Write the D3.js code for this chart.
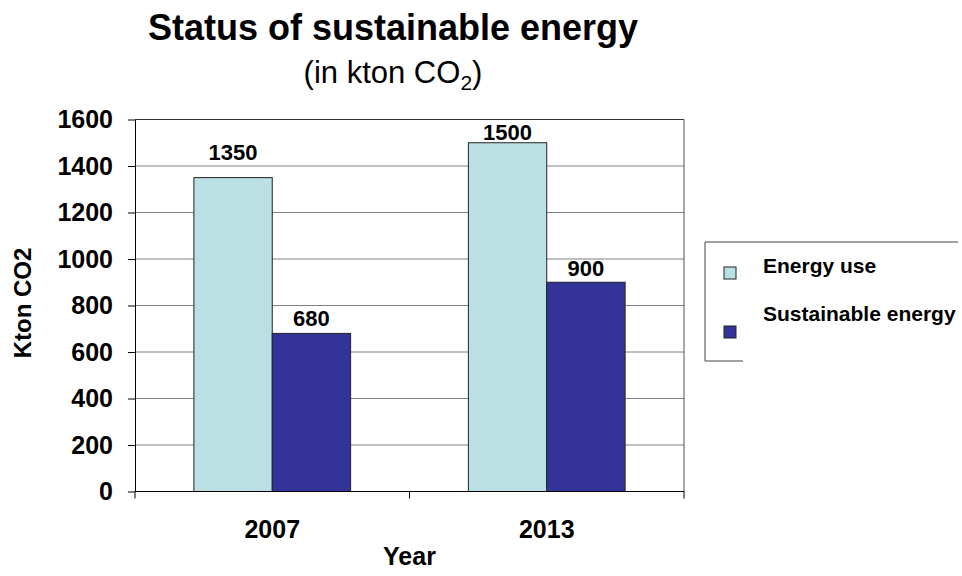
<!DOCTYPE html>
<html>
<head>
<meta charset="utf-8">
<script src="https://cdn.jsdelivr.net/npm/d3@7"></script>
<style>
  body { margin: 0; background: #fff; }
  svg { display: block; font-family: "Liberation Sans", Arial, sans-serif; }
</style>
</head>
<body>
<svg width="962" height="576"></svg>
<script>
const years = ["2007", "2013"];
const seriesNames = ["Energy use", "Sustainable energy"];
const energyUse = [1350, 1500];
const sustainableEnergy = [680, 900];
const yTicks = [0, 200, 400, 600, 800, 1000, 1200, 1400, 1600];

const colors = { "Energy use": "#BBE0E3", "Sustainable energy": "#333399" };

const svg = d3.select("svg");
const plotLeft = 135, plotRight = 684, plotTop = 119.5, plotBottom = 491.5;

const x = d3.scaleBand()
  .domain(years)
  .range([plotLeft, plotRight])
  .paddingInner(0.429)
  .paddingOuter(0.2145);

const xInner = d3.scaleBand()
  .domain(seriesNames)
  .range([0, x.bandwidth()]);

const y = d3.scaleLinear()
  .domain([0, 1600])
  .range([plotBottom, plotTop]);

const rows = years.map((yr, i) => ({
  year: yr,
  values: [
    { name: seriesNames[0], value: energyUse[i] },
    { name: seriesNames[1], value: sustainableEnergy[i] }
  ]
}));

// gridlines
svg.append("g")
  .selectAll("line")
  .data(yTicks.filter(d => d > 0))
  .enter()
  .append("line")
  .attr("x1", plotLeft)
  .attr("x2", plotRight)
  .attr("y1", d => y(d))
  .attr("y2", d => y(d))
  .attr("stroke", d => d === 1600 ? "#333" : "#808080")
  .attr("stroke-width", 1);

// right border of plot area
svg.append("line")
  .attr("x1", plotRight).attr("x2", plotRight)
  .attr("y1", plotTop).attr("y2", plotBottom)
  .attr("stroke", "#555");

// bars
const groups = svg.append("g")
  .selectAll("g")
  .data(rows)
  .enter()
  .append("g")
  .attr("transform", d => `translate(${x(d.year)},0)`);

groups.selectAll("rect")
  .data(d => d.values)
  .enter()
  .append("rect")
  .attr("x", d => xInner(d.name))
  .attr("y", d => y(d.value))
  .attr("width", xInner.bandwidth())
  .attr("height", d => y(0) - y(d.value))
  .attr("fill", d => colors[d.name])
  .attr("stroke", "#222")
  .attr("stroke-width", 1);

// value labels (lift above bar top, as placed in the original)
const labelLift = [[18, 7], [3, 6]];
groups.each(function(row, gi) {
  d3.select(this).selectAll("text")
    .data(row.values)
    .enter()
    .append("text")
    .attr("x", d => xInner(d.name) + xInner.bandwidth() / 2)
    .attr("y", (d, si) => y(d.value) - labelLift[gi][si])
    .attr("text-anchor", "middle")
    .attr("font-size", 22)
    .attr("font-weight", "bold")
    .attr("fill", "#000")
    .text(d => d.value);
});

// y axis
const yAxis = svg.append("g")
  .attr("transform", `translate(${plotLeft},0)`)
  .call(d3.axisLeft(y)
    .tickValues(yTicks)
    .tickFormat(d3.format("d"))
    .tickSize(7)
    .tickPadding(15)
    .tickSizeOuter(0));
yAxis.select(".domain").attr("stroke", "#000");
yAxis.selectAll(".tick line").attr("stroke", "#000");
yAxis.selectAll(".tick text")
  .attr("font-size", 25)
  .attr("font-weight", "bold")
  .attr("font-family", "Liberation Sans, Arial, sans-serif")
  .attr("fill", "#000");

// x axis
svg.append("line")
  .attr("x1", plotLeft).attr("x2", plotRight)
  .attr("y1", plotBottom).attr("y2", plotBottom)
  .attr("stroke", "#000");

const gap = (x.step() - x.bandwidth()) / 2;
const boundaries = years.map(yr => x(yr) - gap).concat([plotRight]);
svg.append("g")
  .selectAll("line")
  .data(boundaries)
  .enter()
  .append("line")
  .attr("x1", d => d).attr("x2", d => d)
  .attr("y1", plotBottom).attr("y2", plotBottom + 7)
  .attr("stroke", "#000");

svg.append("g")
  .selectAll("text")
  .data(years)
  .enter()
  .append("text")
  .attr("x", d => x(d) + x.bandwidth() / 2)
  .attr("y", 538)
  .attr("text-anchor", "middle")
  .attr("font-size", 25)
  .attr("font-weight", "bold")
  .text(d => d);

svg.append("text")
  .attr("x", (plotLeft + plotRight) / 2)
  .attr("y", 565)
  .attr("text-anchor", "middle")
  .attr("font-size", 25)
  .attr("font-weight", "bold")
  .text("Year");

// y axis title
svg.append("text")
  .attr("transform", "translate(31,303) rotate(-90)")
  .attr("text-anchor", "middle")
  .attr("font-size", 24)
  .attr("font-weight", "bold")
  .text("Kton CO2");

// titles
svg.append("text")
  .attr("x", 393)
  .attr("y", 40)
  .attr("text-anchor", "middle")
  .attr("font-size", 36)
  .attr("font-weight", "bold")
  .text("Status of sustainable energy");

const sub = svg.append("text")
  .attr("x", 393)
  .attr("y", 83)
  .attr("text-anchor", "middle")
  .attr("font-size", 31);
sub.append("tspan").text("(in kton CO");
sub.append("tspan").attr("font-size", 21).attr("dy", 7).text("2");
sub.append("tspan").attr("dy", -7).text(")");

// legend
const legend = svg.append("g");
legend.append("rect")
  .attr("x", 705).attr("y", 242)
  .attr("width", 260).attr("height", 119)
  .attr("fill", "#fff");
legend.append("line")
  .attr("x1", 705).attr("x2", 958).attr("y1", 242).attr("y2", 242)
  .attr("stroke", "#444");
legend.append("line")
  .attr("x1", 705).attr("x2", 705).attr("y1", 242).attr("y2", 361)
  .attr("stroke", "#444");
legend.append("line")
  .attr("x1", 705).attr("x2", 743).attr("y1", 361).attr("y2", 361)
  .attr("stroke", "#444");

const swatchY = [267, 326];
const textY = [273, 321];
seriesNames.forEach((name, i) => {
  legend.append("rect")
    .attr("x", 724).attr("y", swatchY[i])
    .attr("width", 12).attr("height", 12)
    .attr("fill", colors[name])
    .attr("stroke", "#222");
  legend.append("text")
    .attr("x", 763).attr("y", textY[i])
    .attr("font-size", 21)
    .attr("font-weight", "bold")
    .text(name);
});
</script>
</body>
</html>
